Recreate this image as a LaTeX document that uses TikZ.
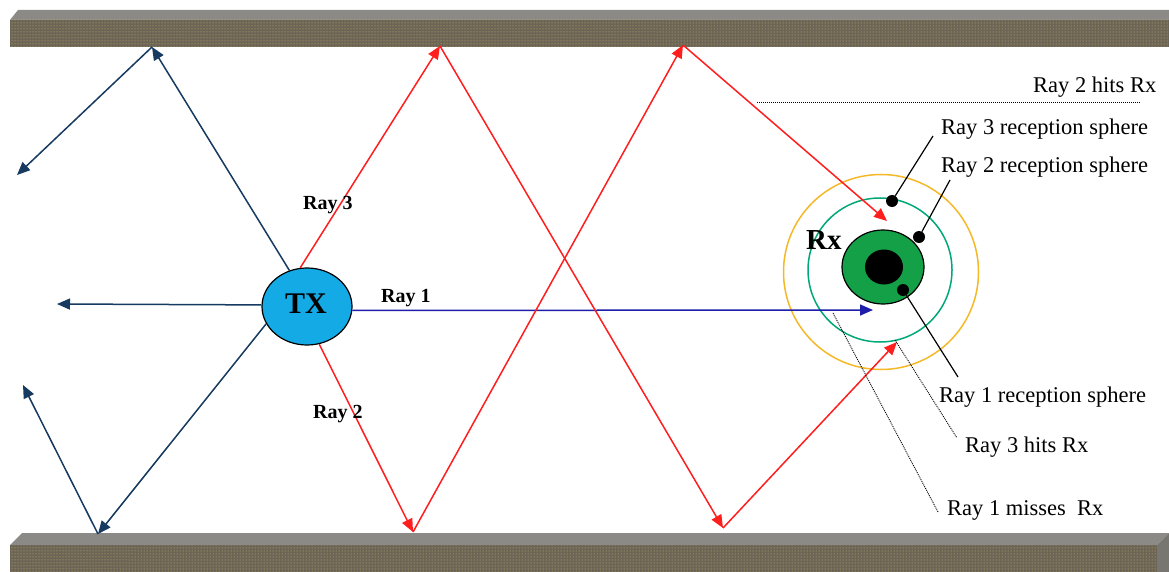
\documentclass[tikz,border=0pt]{standalone}
\usepackage{fontspec}
\setmainfont{Liberation Serif}
\usetikzlibrary{arrows.meta,shapes.geometric,patterns}
\definecolor{navy}{RGB}{22,58,96}
\definecolor{rayblue}{RGB}{30,30,170}
\definecolor{rayred}{RGB}{255,30,30}
\definecolor{txblue}{RGB}{20,170,230}
\definecolor{rxgreen}{RGB}{20,160,70}
\definecolor{sphteal}{RGB}{0,168,120}
\definecolor{sphorange}{RGB}{245,185,40}
\definecolor{wallfront}{RGB}{108,100,84}
\definecolor{walltop}{RGB}{140,138,134}
\definecolor{wallside}{RGB}{120,118,112}
\definecolor{walldot}{RGB}{205,195,125}
\begin{document}
\begin{tikzpicture}[x=1pt,y=-1pt,
  ray/.style={line width=1.5pt},
  arr/.style={-{Triangle[length=13pt,width=11pt]}},
  navyray/.style={ray,draw=navy,arr,color=navy},
  redray/.style={ray,draw=rayred,arr,color=rayred},
  lbl/.style={anchor=base west,inner sep=0pt,font=\fontsize{22.5}{25}\selectfont},
  raylbl/.style={anchor=base west,inner sep=0pt,font=\bfseries\fontsize{20}{22}\selectfont},
  dotline/.style={line width=0.9pt,dash pattern=on 1pt off 1pt},
  leader/.style={line width=1.2pt,black},
  blackdot/.style={circle,fill=black,inner sep=0pt,minimum size=12pt}]
\useasboundingbox (0,0) rectangle (1169,572);
\fill[white] (0,0) rectangle (1169,572);
% top wall
\fill[walltop] (10,20) -- (18,10) -- (1169,10) -- (1169,20) -- cycle;
\fill[wallfront] (10,20) rectangle (1169,47);
\fill[pattern=dots,pattern color=walldot] (10,20) rectangle (1169,47);
% bottom wall
\fill[walltop] (10,545) -- (22,533) -- (1169,533) -- (1157,545) -- cycle;
\fill[wallside] (1157,545) -- (1169,533) -- (1169,572) -- (1157,572) -- cycle;
\fill[wallfront] (10,545) rectangle (1157,572);
\fill[pattern=dots,pattern color=walldot] (10,545) rectangle (1157,572);

% receiver
\node[circle,draw=sphorange,line width=1.5pt,minimum size=195pt,inner sep=0pt] (s3) at (881,272) {};
\node[circle,draw=sphteal,line width=1.5pt,minimum size=144pt,inner sep=0pt] (s2) at (880,270) {};
\node[ellipse,draw=black,line width=1.2pt,fill=rxgreen,minimum width=82pt,minimum height=74pt,inner sep=0pt] (rx) at (883,267) {};
\node[ellipse,fill=black,minimum width=38pt,minimum height=35pt,inner sep=0pt] (rxcore) at (884,267) {};
\node[anchor=base west,inner sep=0pt,font=\bfseries\fontsize{29}{31}\selectfont] (rxl) at (806,249) {Rx};

% transmitter
\node[ellipse,draw=black,line width=1.2pt,fill=txblue,minimum width=90pt,minimum height=77pt,inner sep=0pt] (tx) at (307,306.5) {};
\node[anchor=base,inner sep=0pt,font=\bfseries\fontsize{30}{32}\selectfont] (txl) at (306,313) {TX};

% coordinates
\coordinate (nu1) at (152,47);
\coordinate (nu2) at (17,175);
\coordinate (nl) at (57,304);
\coordinate (nd1) at (98,534);
\coordinate (nd2) at (23,385);
\coordinate (r1) at (873,310);
\coordinate (a1) at (440,46);
\coordinate (a2) at (723,528);
\coordinate (a3) at (897,342);
\coordinate (b1) at (413,532);
\coordinate (b2) at (683,45);
\coordinate (b3) at (887,221);

% navy rays
\draw[navyray] (tx.116) -- (nu1);
\draw[navyray] (nu1) -- (nu2);
\draw[navyray] (tx.178) -- (nl);
\draw[navyray] (tx.203) -- (nd1);
\draw[navyray] (nd1) -- (nd2);
% ray 1
\draw[ray,draw=rayblue,arr,color=rayblue] (tx.-5) -- (r1);
% ray 3
\draw[redray] (tx.100) -- (a1);
\draw[redray] (a1) -- (a2);
\draw[redray] (a2) -- (a3);
% ray 2
\draw[redray] (tx.-72) -- (b1);
\draw[redray] (b1) -- (b2);
\draw[redray] (b2) -- (b3);

% ray labels
\node[raylbl] (l3) at (303,209) {Ray 3};
\node[raylbl] (l1) at (381,302) {Ray 1};
\node[raylbl] (l2) at (313,418) {Ray 2};

% right labels
\node[lbl] (t1) at (1033,93) {Ray 2 hits Rx};
\node[lbl] (t2) at (941,135) {Ray 3 reception sphere};
\node[lbl] (t3) at (941,173) {Ray 2 reception sphere};
\node[lbl] (t4) at (939,402) {Ray 1 reception sphere};
\node[lbl] (t5) at (965,452) {Ray 3 hits Rx};
\node[lbl] (t6) at (947,515) {Ray 1 misses\ \ Rx};

% dotted lines
\coordinate (d1a) at (757,102);
\coordinate (d1b) at (1140,102);
\coordinate (d2a) at (895,340);
\coordinate (d2b) at (957,438);
\coordinate (d3a) at (833,313);
\coordinate (d3b) at (938,512);
\draw[dotline] (d1a) -- (d1b);
\draw[dotline] (d2a) -- (d2b);
\draw[dotline] (d3a) -- (d3b);

% leader dots
\node[blackdot] (p3) at (892,201) {};
\node[blackdot] (p2) at (919,237) {};
\node[blackdot] (p1) at (903,290) {};
\coordinate (q3) at (933,136);
\coordinate (q2) at (950,180);
\coordinate (q1) at (958,377);
\draw[leader] (p3) -- (q3);
\draw[leader] (p2) -- (q2);
\draw[leader] (p1) -- (q1);
\end{tikzpicture}
\end{document}
